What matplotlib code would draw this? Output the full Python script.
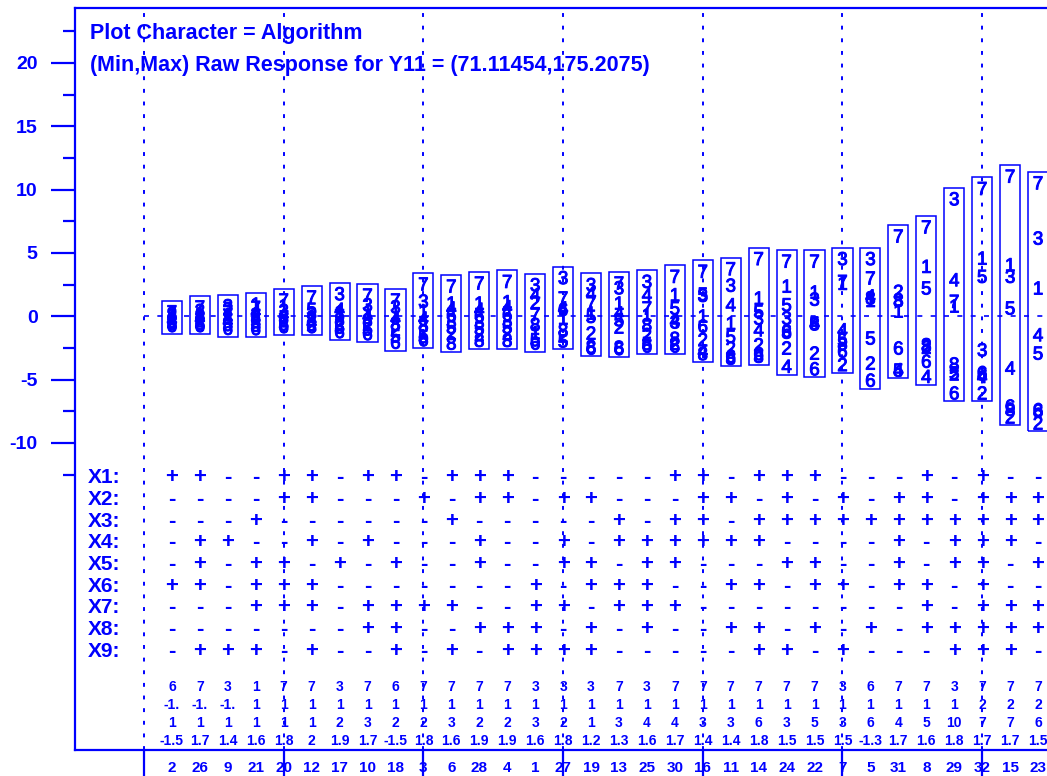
import numpy as np
import matplotlib
matplotlib.use("Agg")
import matplotlib.pyplot as plt
import matplotlib.patheffects as pe
from matplotlib.patches import Rectangle

BLUE = "#0000ff"
plt.rcParams["font.family"] = ["Liberation Sans", "DejaVu Sans"]

# --- data ---
runs = [2, 26, 9, 21, 20, 12, 17, 10, 18, 3, 6, 28, 4, 1, 27, 19,
        13, 25, 30, 16, 11, 14, 24, 22, 7, 5, 31, 8, 29, 32, 15, 23]

# plot characters (algorithm) and their centred responses, one entry per run
box_chars = ["78314256", "73184256", "32718456", "17428356", "71348256",
             "75318426", "34178256", "73148256", "73148256", "73148256",
             "71463528", "71463528", "71463528", "34278156", "37461825",
             "34715286", "73145286", "34718256", "71543826", "75316248",
             "73415268", "71534268", "71536824", "71345826", "37145862",
             "37481526", "72381654", "71538264", "34718526", "71536842",
             "71354682", "73145682"]
box_vals = [
    [0.2, 0.05, -0.1, -0.25, -0.4, -0.55, -0.7, -0.88],
    [0.58, 0.3, 0.1, -0.1, -0.3, -0.5, -0.7, -0.88],
    [0.68, 0.45, 0.2, 0.0, -0.25, -0.5, -0.8, -1.1],
    [0.81, 0.55, 0.25, 0.0, -0.25, -0.55, -0.85, -1.12],
    [1.13, 0.7, 0.3, 0.0, -0.25, -0.5, -0.75, -0.96],
    [1.37, 0.4, 0.1, -0.15, -0.4, -0.6, -0.8, -0.96],
    [1.63, 0.4, 0.2, -0.1, -0.4, -0.7, -1.0, -1.36],
    [1.52, 0.76, 0.2, -0.1, -0.45, -0.8, -1.15, -1.52],
    [1.13, 0.6, 0.1, -0.3, -0.75, -1.2, -1.7, -2.2],
    [2.4, 1.05, 0.25, -0.3, -0.85, -1.35, -1.75, -2.0],
    [2.23, 0.89, 0.5, -0.05, -0.55, -1.0, -1.5, -2.27],
    [2.47, 0.89, 0.4, -0.1, -0.6, -1.1, -1.6, -2.05],
    [2.6, 1.0, 0.6, 0.0, -0.5, -1.0, -1.5, -2.05],
    [2.34, 1.55, 0.95, 0.0, -0.8, -1.45, -2.0, -2.27],
    [2.9, 1.29, 0.5, 0.4, -0.29, -1.25, -1.7, -2.1],
    [2.35, 1.68, 0.89, 0.1, -0.16, -1.48, -2.55, -2.66],
    [2.47, 2.1, 0.89, 0.1, -0.42, -1.0, -2.6, -2.7],
    [2.6, 1.55, 0.5, -0.03, -0.82, -1.6, -2.3, -2.5],
    [3.0, 1.55, 0.5, -0.5, -0.6, -1.9, -2.3, -2.5],
    [3.4, 1.6, 1.5, -0.13, -0.92, -2.0, -2.9, -3.1],
    [3.6, 2.3, 0.76, -0.69, -1.74, -2.66, -3.3, -3.45],
    [4.4, 1.29, 0.24, -0.3, -1.22, -2.4, -3.1, -3.3],
    [4.2, 2.23, 0.76, -0.29, -1.3, -1.4, -2.66, -4.1],
    [4.2, 1.76, 1.2, -0.69, -0.7, -0.75, -3.06, -4.3],
    [4.4, 2.6, 2.45, -1.22, -2.0, -2.3, -2.9, -3.97],
    [4.4, 2.87, 1.45, 1.3, 1.1, -1.87, -3.85, -5.2],
    [6.18, 1.81, 1.15, 1.1, 0.26, -2.66, -4.4, -4.37],
    [6.9, 3.79, 2.08, -2.4, -2.5, -2.6, -3.7, -4.9],
    [9.12, 2.73, 1.03, 0.66, -3.92, -4.63, -4.7, -6.21],
    [9.94, 4.44, 3.0, -2.8, -4.6, -4.7, -4.9, -6.21],
    [10.91, 3.92, 3.0, 0.5, -4.24, -7.24, -7.5, -8.1],
    [10.38, 6.02, 2.08, -1.61, -3.06, -7.53, -7.6, -8.58],
]

# factor settings for each run, in plot order
factor_names = ["X1:", "X2:", "X3:", "X4:", "X5:", "X6:", "X7:", "X8:", "X9:"]
factor_signs = [
    "++--++-++-+++-----++-+++---+-+--",
    "----++---+-++-++---++-+-+-++-+++",
    "---+------+-----+-++-+++++++++++",
    "-++--+-+---+--+-++++++----+-+++-",
    "-+-++-+-+--+--++-++---++--+-++-+",
    "++-+++-------+-+++--++-++-++-+--",
    "---+++-++++--++-+++--------+-+++",
    "-------++--+++-+-+--++-+-+-+++++",
    "-+++-+--+-+-++++-----++-+---+++-",
]

row_best = ["6", "7", "3", "1", "7", "7", "3", "7", "6", "7", "7", "7", "7", "3", "3", "3",
            "7", "3", "7", "7", "7", "7", "7", "7", "3", "6", "7", "7", "3", "7", "7", "7"]
row_two = ["-1.", "-1.", "-1.", "1", "1", "1", "1", "1", "1", "1", "1", "1", "1", "1", "1", "1",
           "1", "1", "1", "1", "1", "1", "1", "1", "1", "1", "1", "1", "1", "2", "2", "2"]
row_three = ["1", "1", "1", "1", "1", "1", "2", "3", "2", "2", "3", "2", "2", "3", "2", "1",
             "3", "4", "4", "3", "3", "6", "3", "5", "3", "6", "4", "5", "10", "7", "7", "6"]
row_four = ["-1.5", "1.7", "1.4", "1.6", "1.8", "2", "1.9", "1.7", "-1.5", "1.8", "1.6",
            "1.9", "1.9", "1.6", "1.8", "1.2", "1.3", "1.6", "1.7", "1.4", "1.4", "1.8",
            "1.5", "1.5", "1.5", "-1.3", "1.7", "1.6", "1.8", "1.7", "1.7", "1.5"]

title_lines = ["Plot Character = Algorithm",
               "(Min,Max) Raw Response for Y11 = (71.11454,175.2075)"]

# --- figure ---
fig = plt.figure(figsize=(10.47, 7.76), dpi=100)
ax = fig.add_axes([75 / 1047, 26 / 776, 1.0 - 75 / 1047, 742 / 776])
ax.set_xlim(-2.47, 32.32)
ax.set_ylim(-34.24, 24.34)

xs = np.arange(1, len(runs) + 1)

# reference lines
for xv in range(0, 31, 5):
    ax.axvline(xv, color=BLUE, lw=1.4, ls=(0, (2, 4.5)), zorder=1)
ax.hlines(0, 0, 32.32, color=BLUE, lw=1.2, ls=(0, (3, 5)), zorder=1)

# boxes with plot characters
half_w = 0.36
thick = [pe.withStroke(linewidth=0.7, foreground=BLUE)]
for x, chars, vals in zip(xs, box_chars, box_vals):
    lo, hi = min(vals) - 0.51, max(vals) + 1.03
    ax.add_patch(Rectangle((x - half_w, lo), 2 * half_w, hi - lo, fill=False,
                           edgecolor=BLUE, lw=1.1, zorder=3))
    for ch, v in zip(chars, vals):
        ax.text(x, v, ch, color=BLUE, fontsize=13.5, ha="center", va="center",
                zorder=4, path_effects=thick)

# factor sign table
for k, (name, signs) in enumerate(zip(factor_names, factor_signs)):
    yk = -12.75 - 1.71 * k
    ax.text(-2.0, yk, name, color=BLUE, fontsize=15, fontweight="bold",
            ha="left", va="center")
    for x, s in zip(xs, signs):
        ax.text(x, yk, s, color=BLUE, fontsize=16, fontweight="bold",
                ha="center", va="center")

# summary rows
for k, row in enumerate([row_best, row_two, row_three, row_four]):
    yk = -29.3 - 1.42 * k
    for x, s in zip(xs, row):
        ax.text(x, yk, s, color=BLUE, fontsize=10, fontweight="bold",
                ha="center", va="center")

for k, line in enumerate(title_lines):
    ax.text(0.0155, 0.965 - 0.043 * k, line, transform=ax.transAxes, color=BLUE,
            fontsize=15.5, fontweight="bold", ha="left", va="center")

# axes styling
for side in ["left", "top", "bottom"]:
    ax.spines[side].set_color(BLUE)
    ax.spines[side].set_linewidth(1.6)
ax.spines["right"].set_visible(False)

ax.set_yticks(np.arange(-10, 21, 5))
ax.set_yticks(np.arange(-12.5, 23, 5), minor=True)
ax.set_yticklabels([str(v) for v in range(-10, 21, 5)])
ax.tick_params(axis="y", which="major", length=17, width=1.6, color=BLUE,
               labelcolor=BLUE, labelsize=14, pad=10)
ax.tick_params(axis="y", which="minor", length=9, width=1.6, color=BLUE)
for lab in ax.get_yticklabels():
    lab.set_fontweight("bold")

# run numbers under the axis; long ticks every fifth run
ax.xaxis.remove_overlapping_locs = False
ax.set_xticks(range(0, 31, 5))
ax.set_xticklabels([])
ax.set_xticks(xs, minor=True)
ax.set_xticklabels([str(r) for r in runs], minor=True)
ax.tick_params(axis="x", which="major", length=20, width=1.6, color=BLUE)
ax.tick_params(axis="x", which="minor", length=0, pad=8, labelcolor=BLUE, labelsize=11)
for lab in ax.get_xticklabels(minor=True):
    lab.set_fontweight("bold")

fig.savefig("out.png", dpi=100)
